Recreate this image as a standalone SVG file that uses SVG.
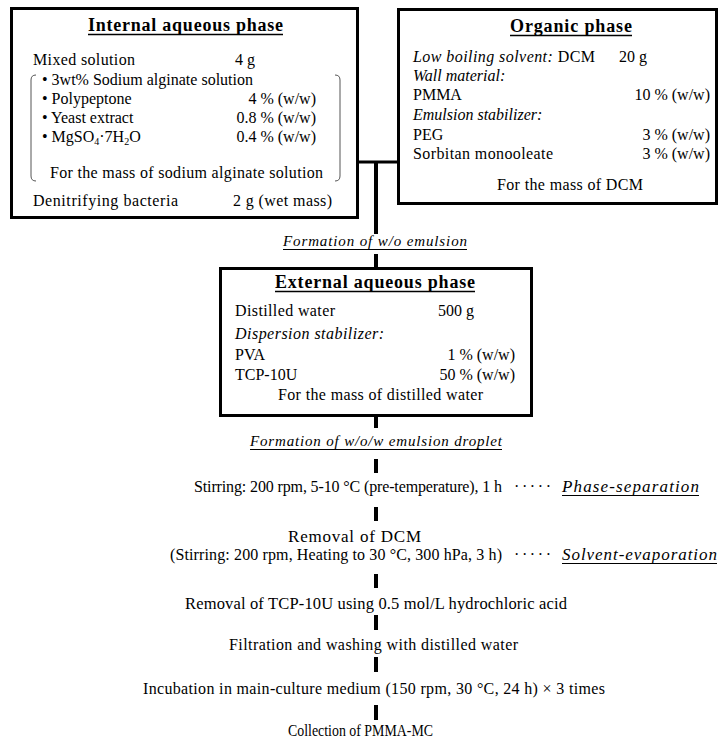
<svg xmlns="http://www.w3.org/2000/svg" width="720" height="743" viewBox="0 0 720 743">
<style>
text{font-family:"Liberation Serif","Times New Roman",serif;fill:#000}
.b{font-size:16px}
.t{font-size:18px;font-weight:bold}
.i{font-style:italic}
.l{font-size:15px;font-style:italic}
.e{text-anchor:end}
.box{fill:#fff;stroke:#000;stroke-width:3}
.ul{stroke:#000;stroke-width:1}
.tul{stroke:#000;stroke-width:1.5}
.br{fill:none;stroke:#555;stroke-width:1}
.c{stroke:#000;fill:none}
</style>
<rect width="720" height="743" fill="#fff"/>
<g id="connectors">
<line class="c" x1="358" y1="162" x2="398" y2="162" stroke-width="3"/>
<line class="c" x1="376" y1="162" x2="376" y2="234" stroke-width="4"/>
<line class="c" x1="376" y1="254" x2="376" y2="269" stroke-width="4"/>
<line class="c" x1="376" y1="416" x2="376" y2="428" stroke-width="4"/>
<line class="c" x1="376" y1="459" x2="376" y2="473" stroke-width="4"/>
<line class="c" x1="376" y1="507" x2="376" y2="521" stroke-width="4"/>
<line class="c" x1="376" y1="574" x2="376" y2="588" stroke-width="4"/>
<line class="c" x1="376" y1="615" x2="376" y2="630" stroke-width="4"/>
<line class="c" x1="376" y1="657" x2="376" y2="672" stroke-width="4"/>
<line class="c" x1="376" y1="705" x2="376" y2="720" stroke-width="4"/>
<text class="l" x="283" y="246" textLength="184" lengthAdjust="spacing">Formation of w/o emulsion</text>
<line class="ul" x1="283" y1="249.5" x2="467" y2="249.5"/>
<text class="l" x="250" y="446" textLength="252" lengthAdjust="spacing">Formation of w/o/w emulsion droplet</text>
<line class="ul" x1="250" y1="449.5" x2="502" y2="449.5"/>
</g>
<g id="internal">
<rect class="box" x="11.5" y="8.5" width="346" height="209"/>
<text class="t" x="88" y="31" textLength="195" lengthAdjust="spacing">Internal aqueous phase</text>
<line class="tul" x1="88" y1="34.5" x2="283" y2="34.5"/>
<text class="b" x="33" y="65" textLength="102" lengthAdjust="spacing">Mixed solution</text>
<text class="b" x="235" y="65">4 g</text>
<path class="br" d="M36,75 Q31,75 31,80 L31,176 Q31,181 36,181"/>
<path class="br" d="M335,75 Q340,75 340,80 L340,176 Q340,181 335,181"/>
<text class="b" x="42" y="85" textLength="211" lengthAdjust="spacing">• 3wt% Sodium alginate solution</text>
<text class="b" x="42" y="104">• Polypeptone</text>
<text class="b e" x="316" y="104">4 % (w/w)</text>
<text class="b" x="42" y="123">• Yeast extract</text>
<text class="b e" x="316" y="123">0.8 % (w/w)</text>
<text class="b" x="42" y="142">• MgSO<tspan font-size="10" dy="3">4</tspan><tspan dy="-3">·7H</tspan><tspan font-size="10" dy="3">2</tspan><tspan dy="-3">O</tspan></text>
<text class="b e" x="316" y="142">0.4 % (w/w)</text>
<text class="b" x="50" y="178" textLength="273" lengthAdjust="spacing">For the mass of sodium alginate solution</text>
<text class="b" x="33" y="206" textLength="145" lengthAdjust="spacing">Denitrifying bacteria</text>
<text class="b" x="233" y="206" textLength="99" lengthAdjust="spacing">2 g (wet mass)</text>
</g>
<g id="organic">
<rect class="box" x="398.5" y="9.5" width="318" height="194"/>
<text class="t" x="510" y="32" textLength="122" lengthAdjust="spacing">Organic phase</text>
<line class="tul" x1="510" y1="35.5" x2="632" y2="35.5"/>
<text class="b" x="413" y="62" textLength="182" lengthAdjust="spacing"><tspan class="i">Low boiling solvent:</tspan> DCM</text>
<text class="b" x="619" y="62">20 g</text>
<text class="b i" x="413" y="81">Wall material:</text>
<text class="b" x="413" y="100">PMMA</text>
<text class="b e" x="710" y="100">10 % (w/w)</text>
<text class="b i" x="413" y="120">Emulsion stabilizer:</text>
<text class="b" x="413" y="140">PEG</text>
<text class="b e" x="710" y="140">3 % (w/w)</text>
<text class="b" x="413" y="159" textLength="140" lengthAdjust="spacing">Sorbitan monooleate</text>
<text class="b e" x="710" y="159">3 % (w/w)</text>
<text class="b" x="497" y="190" textLength="146" lengthAdjust="spacing">For the mass of DCM</text>
</g>
<g id="external">
<rect class="box" x="220.5" y="268.5" width="311" height="147"/>
<text class="t" x="275" y="288" textLength="200" lengthAdjust="spacing">External aqueous phase</text>
<line class="tul" x1="275" y1="291.5" x2="475" y2="291.5"/>
<text class="b" x="235" y="316" textLength="100" lengthAdjust="spacing">Distilled water</text>
<text class="b" x="438" y="316">500 g</text>
<text class="b i" x="235" y="339" textLength="149" lengthAdjust="spacing">Dispersion stabilizer:</text>
<text class="b" x="235" y="360">PVA</text>
<text class="b e" x="515" y="360">1 % (w/w)</text>
<text class="b" x="235" y="380">TCP-10U</text>
<text class="b e" x="515" y="380">50 % (w/w)</text>
<text class="b" x="278" y="400" textLength="205" lengthAdjust="spacing">For the mass of distilled water</text>
</g>
<g id="step1">
<text class="b" x="194" y="492" textLength="308" lengthAdjust="spacing">Stirring: 200 rpm, 5-10 °C (pre-temperature), 1 h</text>
<text class="b" x="514" y="492" textLength="37" lengthAdjust="spacing">·····</text>
<text class="b i" x="562" y="492" style="font-size:17px" textLength="137" lengthAdjust="spacing">Phase-separation</text>
<line class="ul" x1="562" y1="495.5" x2="699" y2="495.5"/>
</g>
<g id="step2">
<text class="b" x="288" y="542" style="font-size:17px" textLength="133" lengthAdjust="spacing">Removal of DCM</text>
<text class="b" x="170" y="560" textLength="332" lengthAdjust="spacing">(Stirring: 200 rpm, Heating to 30 °C, 300 hPa, 3 h)</text>
<text class="b" x="514" y="560" textLength="37" lengthAdjust="spacing">·····</text>
<text class="b i" x="562" y="560" style="font-size:17px" textLength="155" lengthAdjust="spacing">Solvent-evaporation</text>
<line class="ul" x1="562" y1="563.5" x2="717" y2="563.5"/>
</g>
<g id="step3">
<text class="b" x="185" y="609" style="font-size:16.5px" textLength="382" lengthAdjust="spacing">Removal of TCP-10U using 0.5 mol/L hydrochloric acid</text>
</g>
<g id="step4">
<text class="b" x="229" y="650" textLength="289" lengthAdjust="spacing">Filtration and washing with distilled water</text>
</g>
<g id="step5">
<text class="b" x="143" y="694" textLength="462" lengthAdjust="spacing">Incubation in main-culture medium (150 rpm, 30 °C, 24 h) × 3 times</text>
</g>
<g id="step6">
<text class="b" x="288" y="736" textLength="145" lengthAdjust="spacingAndGlyphs">Collection of PMMA-MC</text>
</g>
</svg>
